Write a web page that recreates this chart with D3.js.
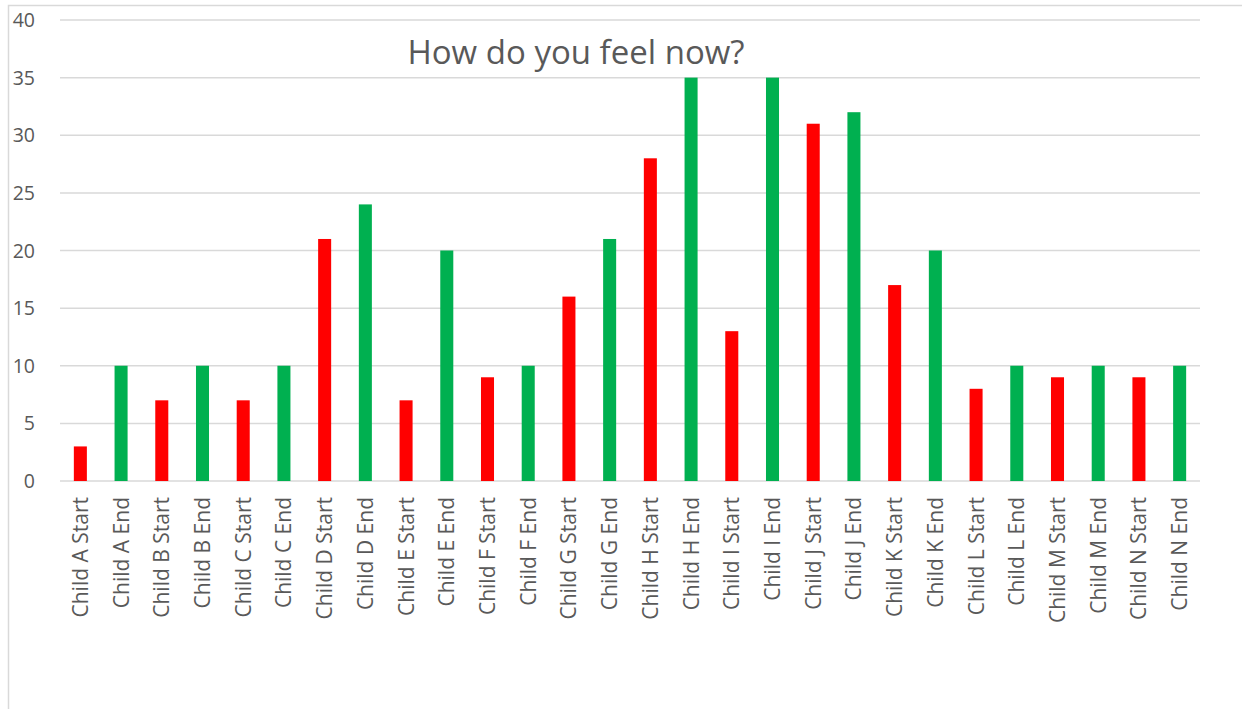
<!DOCTYPE html>
<html>
<head>
<meta charset="utf-8">
<script src="https://cdn.jsdelivr.net/npm/d3@7"></script>
<style>
  html, body { margin: 0; padding: 0; background: #fff; }
  svg { display: block; }
</style>
</head>
<body>
<svg id="chart" width="1242" height="709"></svg>
<script>
// Chart data
const children = ['A', 'B', 'C', 'D', 'E', 'F', 'G', 'H', 'I', 'J', 'K', 'L', 'M', 'N'];
const startValues = [3, 7, 7, 21, 7, 9, 16, 28, 13, 31, 17, 8, 9, 9];
const endValues = [10, 10, 10, 24, 20, 10, 21, 35, 35, 32, 20, 10, 10, 10];
const yTicks = [0, 5, 10, 15, 20, 25, 30, 35, 40];
const title = 'How do you feel now?';

const colors = { start: '#ff0000', end: '#00b050' };
const textColor = '#595959';
const gridColor = '#d9d9d9';
const fontFamily = '"Open Sans", "Noto Sans", sans-serif';

// Flatten into one bar per category: Start then End for each child
const bars = [];
children.forEach((c, i) => {
  bars.push({ label: `Child ${c} Start`, value: startValues[i], kind: 'start' });
  bars.push({ label: `Child ${c} End`, value: endValues[i], kind: 'end' });
});

const width = 1242;
const height = 709;
const plot = { left: 60, right: 1200, top: 20, bottom: 481 };

const svg = d3.select('#chart').style('font-family', fontFamily);

// Chart area border (cropped on the right and bottom in the reference)
svg.append('path')
  .attr('d', `M8.5,${height} V5.5 H${width}`)
  .attr('fill', 'none')
  .attr('stroke', gridColor)
  .attr('stroke-width', 1.5);

const x = d3.scaleBand()
  .domain(bars.map(d => d.label))
  .range([plot.left, plot.right])
  .paddingInner(0.68)
  .paddingOuter(0.34);

const y = d3.scaleLinear()
  .domain([0, 40])
  .range([plot.bottom, plot.top]);

// Gridlines
svg.append('g')
  .attr('class', 'grid')
  .selectAll('line')
  .data(yTicks)
  .join('line')
  .attr('x1', plot.left)
  .attr('x2', plot.right)
  .attr('y1', d => y(d))
  .attr('y2', d => y(d))
  .attr('stroke', gridColor)
  .attr('stroke-width', 1.5);

// Y tick labels
svg.append('g')
  .attr('class', 'axis y')
  .selectAll('text')
  .data(yTicks)
  .join('text')
  .attr('x', 35)
  .attr('y', d => y(d))
  .attr('dy', '0.36em')
  .attr('text-anchor', 'end')
  .attr('fill', textColor)
  .style('font-size', '19.5px')
  .text(d => d);

// Bars
svg.append('g')
  .attr('class', 'bars')
  .selectAll('rect')
  .data(bars)
  .join('rect')
  .attr('x', d => x(d.label))
  .attr('width', x.bandwidth())
  .attr('y', d => y(d.value))
  .attr('height', d => y(0) - y(d.value))
  .attr('fill', d => colors[d.kind]);

// X labels, rotated
svg.append('g')
  .attr('class', 'axis x')
  .selectAll('text')
  .data(bars)
  .join('text')
  .attr('transform', d => `translate(${x(d.label) + x.bandwidth() / 2}, 497) rotate(-90)`)
  .attr('dy', '0.36em')
  .attr('text-anchor', 'end')
  .attr('fill', textColor)
  .style('font-size', '21px')
  .text(d => d.label);

// Title
svg.append('text')
  .attr('class', 'title')
  .attr('x', 576)
  .attr('y', 64)
  .attr('text-anchor', 'middle')
  .attr('fill', textColor)
  .style('font-size', '33px')
  .text(title);
</script>
</body>
</html>
